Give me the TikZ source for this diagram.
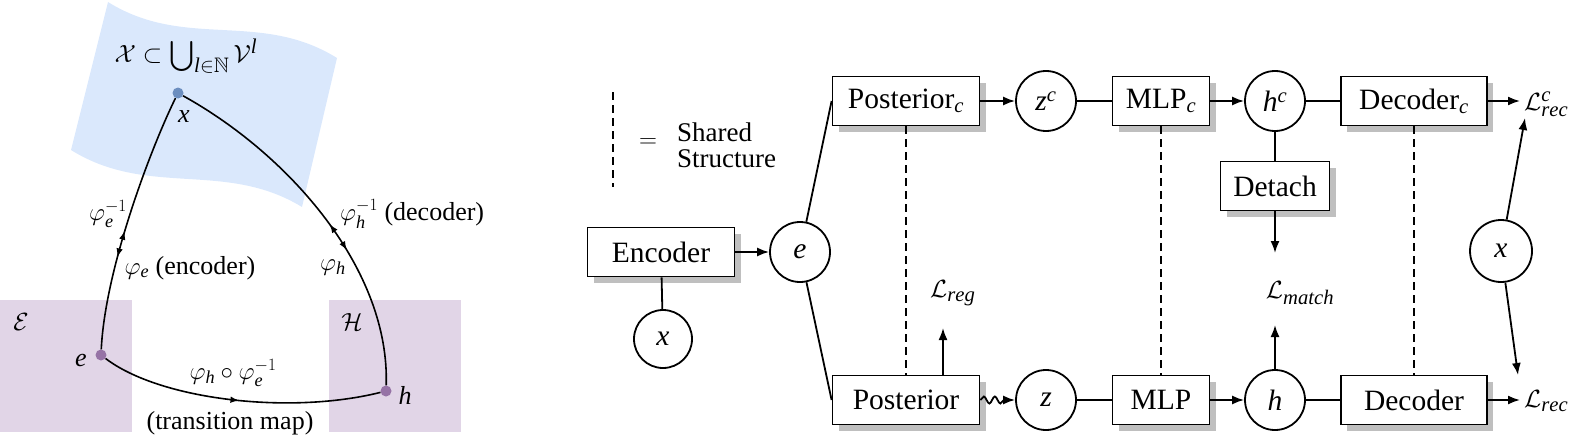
\documentclass[tikz,border=0pt]{standalone}
\usepackage{amssymb}
\usepackage{fontspec}
\setmainfont{Liberation Serif}
\usetikzlibrary{arrows.meta,shadows,decorations.pathmorphing,decorations.markings}
\definecolor{fillblue}{HTML}{DAE8FC}
\definecolor{fillpurple}{HTML}{E1D5E7}
\definecolor{dotblue}{HTML}{6C8EBF}
\definecolor{dotpurple}{HTML}{9673A6}
\newcommand\myF{\fontsize{29.5}{35}\selectfont}
\newcommand\myL{\fontsize{26}{31}\selectfont}
\newcommand\myS{\fontsize{27}{26}\selectfont}
\newcommand\itv[1]{\mathit{#1}}
\tikzset{
  box/.style={draw, line width=1.8pt, minimum height=49pt, inner sep=0pt, fill=white, font=\myF,
    drop shadow={shadow xshift=6pt, shadow yshift=-6pt, fill=black!25, opacity=1}},
  circ/.style={draw, circle, line width=1.8pt, minimum size=60pt, inner sep=0pt, font=\myF},
  conn/.style={line width=1.8pt},
  arr/.style={conn, -{Latex[length=12pt,width=9pt]}},
  share/.style={line width=1.8pt, dash pattern=on 8pt off 5pt},
  lab/.style={font=\myL, inner sep=0pt},
  rlab/.style={font=\myF, inner sep=0pt},
  mdot/.style={circle, inner sep=0pt, minimum size=11pt},
  curve/.style={line width=1.6pt},
  smalltip/.style={},
}
\begin{document}
\begin{tikzpicture}[x=1pt,y=-1pt]
\useasboundingbox (0,0) rectangle (1586,436);
% ---------------- left part ----------------
\fill[fillblue] (108,2) .. controls (185,50) and (260,10) .. (337,58) -- (302,207)
   .. controls (225,160) and (148,198) .. (71,150) -- cycle;
\fill[fillpurple] (0,300) rectangle (132,432);
\fill[fillpurple] (329,300) rectangle (461,432);
\node[font=\fontsize{30}{36}\selectfont, inner sep=0pt] (title) at (186,56) {$\mathcal{X}\subset\bigcup_{\itv{l}\in\mathbb{N}}\mathcal{V}^{\itv{l}}$};
\node[mdot, fill=dotblue] (px) at (178,93) {};
\node[mdot, fill=dotpurple] (pe) at (101,355) {};
\node[mdot, fill=dotpurple] (ph) at (386,391) {};
\draw[curve, decoration={markings,
    mark=at position 0.54 with {\arrowreversed{Latex[length=9pt,width=6.5pt]}},
    mark=at position 0.645 with {\arrow{Latex[length=9pt,width=6.5pt]}}}, postaction={decorate}]
  (px) .. controls (150,150) and (105,270) .. (pe);
\draw[curve, decoration={markings,
    mark=at position 0.53 with {\arrowreversed{Latex[length=9pt,width=6.5pt]}},
    mark=at position 0.615 with {\arrow{Latex[length=9pt,width=6.5pt]}}}, postaction={decorate}]
  (px) .. controls (290,155) and (390,270) .. (ph);
\draw[curve, decoration={markings,
    mark=at position 0.5 with {\arrow{Latex[length=9pt,width=6.5pt]}}}, postaction={decorate}]
  (pe) .. controls (160,400) and (290,415) .. (ph);
\node[lab] (lx) at (184,117) {$\itv{x}$};
\node[lab] (le) at (81,360) {$\itv{e}$};
\node[lab] (lh) at (405,395) {$\itv{h}$};
\node[lab] (lE) at (21,322) {$\mathcal{E}$};
\node[lab] (lH) at (352,322) {$\mathcal{H}$};
\node[lab] (linv) at (108,214) {$\varphi_{\itv{e}}^{-1}$};
\node[lab] (lenc) at (190,268) {$\varphi_{\itv{e}}$ (encoder)};
\node[lab, anchor=west] (ldec) at (340,214) {$\varphi_{\itv{h}}^{-1}$ (decoder)};
\node[lab] (lph) at (333,268) {$\varphi_{\itv{h}}$};
\node[lab] (ltr) at (233,373) {$\varphi_{\itv{h}}\circ\varphi_{\itv{e}}^{-1}$};
\node[lab] (ltm) at (230,423) {(transition map)};
% ---------------- right part ----------------
\coordinate (lgA) at (613,92);
\coordinate (lgB) at (613,187);
\draw[share] (lgA) -- (lgB);
\node[rlab] (eq) at (648,143) {$=$};
\node[anchor=west, align=left, font=\myS, inner sep=0pt] (shared) at (677,145) {Shared\\Structure};

\node[box, minimum width=147pt] (enc) at (661,252) {Encoder};
\node[circ] (e) at (800,252) {$\itv{e}$};
\node[circ, minimum size=58pt] (xl) at (663,339) {$\itv{x}$};
\node[box, minimum width=147pt] (pc) at (906,101) {Posterior$_{\itv{c}}$};
\node[box, minimum width=147pt] (p) at (906,400) {Posterior};
\node[circ] (zc) at (1046,101) {$\itv{z}^{\itv{c}}$};
\node[circ] (z) at (1046,400) {$\itv{z}$};
\node[box, minimum width=97pt] (mc) at (1161,101) {MLP$_{\itv{c}}$};
\node[box, minimum width=97pt] (m) at (1161,400) {MLP};
\node[circ] (hc) at (1275,101) {$\itv{h}^{\itv{c}}$};
\node[circ] (h) at (1275,400) {$\itv{h}$};
\node[box, minimum width=109pt] (det) at (1275,186) {Detach};
\node[box, minimum width=146pt] (dc) at (1414,101) {Decoder$_{\itv{c}}$};
\node[box, minimum width=146pt] (d) at (1414,400) {Decoder};
\node[circ, minimum size=62pt] (xr) at (1501,251) {$\itv{x}$};
\node[rlab, anchor=west] (Lrc) at (1524,104) {$\mathcal{L}_{\itv{rec}}^{\itv{c}}$};
\node[rlab, anchor=west] (Lr) at (1524,401) {$\mathcal{L}_{\itv{rec}}$};
\node[rlab] (Lmatch) at (1300,293) {$\mathcal{L}_{\itv{match}}$};
\node[rlab, anchor=west] (Lreg) at (930,293) {$\mathcal{L}_{\itv{reg}}$};

\coordinate (mA) at (1275,253);
\coordinate (mB) at (1275,325);
\coordinate (regA) at (943,328);
\coordinate (rcA) at (1525,118);
\coordinate (rA) at (1518,375);
\coordinate (rcE) at (1520,101);
\coordinate (rE) at (1520,400);

\draw[share] (pc) -- (p);
\draw[share] (mc) -- (m);
\draw[share] (dc) -- (d);

\draw[arr] (enc) -- (e);
\draw[conn] (enc) -- (xl);
\draw[conn] (e) -- (pc.west);
\draw[conn] (e) -- (p.west);
\draw[arr] (pc) -- (zc);
\draw[conn] (zc) -- (mc);
\draw[arr] (mc) -- (hc);
\draw[conn] (hc) -- (dc);
\draw[arr] (dc) -- (rcE);
\draw[conn] (hc) -- (det);
\draw[arr] (det) -- (mA);
\draw[arr] (h) -- (mB);
\draw[arr] (p.north -| regA) -- (regA);
\draw[conn, -{Latex[length=12pt,width=9pt]}, decorate,
  decoration={snake, amplitude=3.5pt, segment length=11pt, post length=10pt}] (p) -- (z);
\draw[conn] (z) -- (m);
\draw[arr] (m) -- (h);
\draw[conn] (h) -- (d);
\draw[arr] (d) -- (rE);
\draw[arr] (xr) -- (rcA);
\draw[arr] (xr) -- (rA);
\end{tikzpicture}
\end{document}
